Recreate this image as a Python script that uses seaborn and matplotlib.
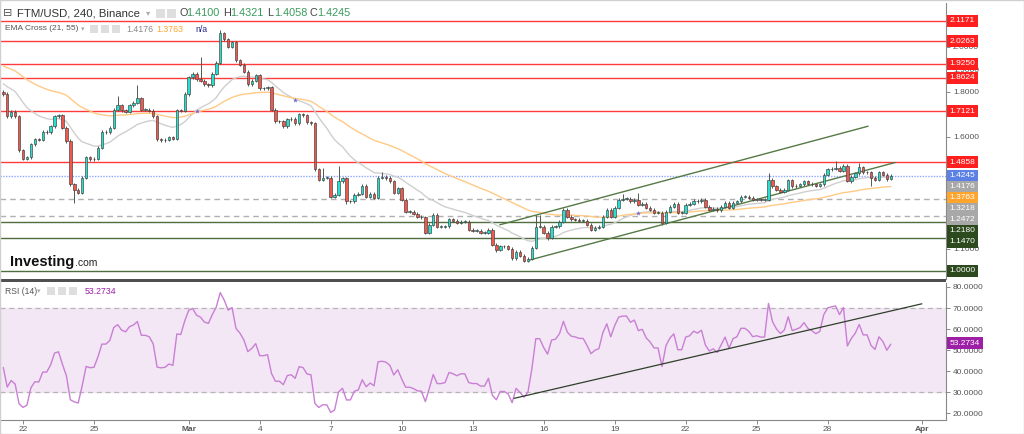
import matplotlib
matplotlib.use("Agg")
import matplotlib.pyplot as plt
import matplotlib.dates as mdates
from matplotlib.patches import Rectangle
from matplotlib.ticker import FormatStrFormatter
import seaborn as sns
import pandas as pd
import numpy as np

# FTM/USD 4h candles (Binance)
start_time = "2022-02-21 04:00"
first_open = 1.80
closes = [
    1.79, 1.69, 1.71, 1.69, 1.538, 1.50, 1.507, 1.565, 1.587, 1.585,
    1.62, 1.62, 1.645, 1.69, 1.695, 1.64, 1.58, 1.386, 1.363, 1.35,
    1.417, 1.507, 1.498, 1.50, 1.55, 1.62, 1.62, 1.64, 1.72, 1.74,
    1.717, 1.71, 1.74, 1.75, 1.77, 1.72, 1.72, 1.715, 1.69, 1.587,
    1.583, 1.585, 1.596, 1.59, 1.717, 1.715, 1.79, 1.865, 1.88, 1.857,
    1.85, 1.834, 1.83, 1.88, 1.93, 2.06, 2.035, 2.00, 2.02, 1.94,
    1.92, 1.89, 1.834, 1.85, 1.874, 1.816, 1.816, 1.82, 1.72, 1.668,
    1.668, 1.645, 1.677, 1.68, 1.66, 1.70, 1.695, 1.664, 1.66, 1.453,
    1.408, 1.417, 1.417, 1.332, 1.34, 1.40, 1.413, 1.31, 1.31, 1.34,
    1.345, 1.38, 1.332, 1.345, 1.327, 1.417, 1.42, 1.415, 1.40, 1.35,
    1.368, 1.318, 1.265, 1.265, 1.256, 1.242, 1.24, 1.17, 1.206, 1.25,
    1.197, 1.197, 1.20, 1.23, 1.224, 1.215, 1.22, 1.22, 1.184, 1.18,
    1.18, 1.17, 1.17, 1.184, 1.117, 1.094, 1.11, 1.11, 1.10, 1.058,
    1.085, 1.067, 1.045, 1.054, 1.103, 1.197, 1.197, 1.17, 1.148, 1.197,
    1.20, 1.22, 1.273, 1.242, 1.23, 1.228, 1.224, 1.224, 1.206, 1.184,
    1.193, 1.197, 1.242, 1.273, 1.242, 1.282, 1.318, 1.323, 1.323, 1.31,
    1.318, 1.296, 1.30, 1.282, 1.273, 1.26, 1.26, 1.215, 1.265, 1.287,
    1.30, 1.26, 1.26, 1.296, 1.30, 1.314, 1.31, 1.318, 1.287, 1.273,
    1.278, 1.27, 1.287, 1.305, 1.282, 1.305, 1.31, 1.332, 1.332, 1.327,
    1.318, 1.32, 1.318, 1.318, 1.408, 1.377, 1.363, 1.354, 1.363, 1.404,
    1.377, 1.381, 1.386, 1.40, 1.39, 1.386, 1.381, 1.386, 1.43, 1.453,
    1.457, 1.46, 1.448, 1.47, 1.40, 1.42, 1.435, 1.462, 1.44, 1.44,
    1.417, 1.408, 1.44, 1.43, 1.41, 1.4245,
]
# visible long wicks (candle index: price)
high_marks = {29: 1.78, 34: 1.83, 50: 1.955, 55: 2.075, 81: 1.46, 85: 1.47, 96: 1.44,
              135: 1.25, 136: 1.25, 157: 1.345, 161: 1.35, 194: 1.435, 211: 1.49,
              217: 1.484, 225: 1.4321}
low_marks = {18: 1.305, 87: 1.30, 125: 1.085, 132: 1.038, 138: 1.14, 167: 1.205,
             214: 1.395, 220: 1.377, 225: 1.4058}
wick = 0.007

# EMA values at the left edge of the chart
ema21_seed = 1.84
ema55_seed = 1.92
rsi_seed_gain = 0.012
rsi_seed_loss = 0.016

# horizontal levels
red_levels = [2.1171, 2.0263, 1.9250, 1.8624, 1.7121, 1.4858]
grey_dashed_levels = [1.3218, 1.2472]
green_levels = [1.2180, 1.1470, 1.0000]
last_price = 1.4245
ema21_label = 1.4176
ema55_label = 1.3763
rsi_label = 53.2734
price_ticks = [1.1, 1.6, 1.8, 1.9, 2.0, 2.1]
rsi_ticks = [20, 30, 40, 50, 60, 70, 80]

# drawn trend lines
chan_low_t = ["2022-03-15 10:00", "2022-03-30 20:30"]
chan_low_p = [1.049, 1.484]
chan_up_t = ["2022-03-14 03:30", "2022-03-29 17:00"]
chan_up_p = [1.206, 1.646]
rsi_trend_t = ["2022-03-14 18:00", "2022-03-31 23:30"]
rsi_trend_v = [27.0, 72.0]

tick_dates = ["2022-02-22", "2022-02-25", "2022-03-01", "2022-03-04", "2022-03-07",
              "2022-03-10", "2022-03-13", "2022-03-16", "2022-03-19", "2022-03-22",
              "2022-03-25", "2022-03-28", "2022-04-01"]
tick_labels = ["22", "25", "Mar", "4", "7", "10", "13", "16", "19", "22", "25", "28", "Apr"]

# ---------------------------------------------------------------
sns.set_theme(style="white")
plt.rcParams['font.family'] = ['Liberation Sans', 'DejaVu Sans']

times = pd.date_range(start_time, periods=len(closes), freq="4h")
x = mdates.date2num(times.to_pydatetime())
opens = [first_open] + closes[:-1]
highs = [high_marks.get(i, max(o, c) + wick) for i, (o, c) in enumerate(zip(opens, closes))]
lows = [low_marks.get(i, min(o, c) - wick) for i, (o, c) in enumerate(zip(opens, closes))]

close_s = pd.Series(closes)
ema21 = pd.concat([pd.Series([ema21_seed]), close_s]).ewm(span=21, adjust=False).mean().iloc[1:].values
ema55 = pd.concat([pd.Series([ema55_seed]), close_s]).ewm(span=55, adjust=False).mean().iloc[1:].values

delta = close_s.diff()
delta.iloc[0] = closes[0] - first_open
gain = delta.clip(lower=0)
loss = -delta.clip(upper=0)
avg_gain = pd.concat([pd.Series([rsi_seed_gain]), gain]).ewm(alpha=1 / 14, adjust=False).mean().iloc[1:].values
avg_loss = pd.concat([pd.Series([rsi_seed_loss]), loss]).ewm(alpha=1 / 14, adjust=False).mean().iloc[1:].values
rsi = 100 - 100 / (1 + avg_gain / avg_loss)

W, H = 1024, 434
fig = plt.figure(figsize=(W / 100, H / 100), dpi=100)
fig.patch.set_facecolor("white")


def fx(px):
    return px / W


def fy(py):
    return 1 - py / H


ax = fig.add_axes([0, fy(279), fx(946), 276 / H])
ax2 = fig.add_axes([0, fy(420), fx(946), 137 / H], sharex=ax)

xlim = mdates.date2num(pd.to_datetime(["2022-02-21 00:40", "2022-04-02 00:00"]).to_pydatetime())
ax.set_xlim(xlim)
ymin, ymax = 0.964, 2.196
ax.set_ylim(ymin, ymax)

# candles
up_col, dn_col = "#26e0cf", "#f0574d"
cols = [up_col if c >= o else dn_col for o, c in zip(opens, closes)]
bw = 4 / 24 * 0.62
ax.vlines(x, lows, highs, color="#4d5a4d", linewidth=0.7, zorder=3)
ax.bar(x, [max(abs(c - o), 0.002) for o, c in zip(opens, closes)],
       bottom=[min(o, c) for o, c in zip(opens, closes)], width=bw,
       color=cols, edgecolor="#3d3d3d", linewidth=0.45, zorder=4)

# EMA cross
sns.lineplot(x=x, y=ema21, ax=ax, color="#cfcfcf", linewidth=1, zorder=2)
sns.lineplot(x=x, y=ema55, ax=ax, color="#ffca85", linewidth=1, zorder=2)
sgn = np.sign(ema21 - ema55)
cross = np.where(np.diff(sgn) != 0)[0] + 1
ax.scatter(x[cross], ema21[cross], marker="*", s=14, color="#6a6ad0", zorder=5, linewidths=0)

# levels
for lv in red_levels:
    ax.axhline(lv, color="#ff3b3b", linewidth=1, zorder=1)
for lv in grey_dashed_levels:
    ax.axhline(lv, color="#b0b0b0", linewidth=1, linestyle=(0, (4, 3)), zorder=1)
for lv in green_levels:
    ax.axhline(lv, color="#4f6e3e", linewidth=1, zorder=1)
ax.axhline(last_price, color="#8fa8ff", linewidth=1, linestyle=(0, (1, 1)), zorder=1)

# channel
for tt, pp in [(chan_low_t, chan_low_p), (chan_up_t, chan_up_p)]:
    tx = mdates.date2num(pd.to_datetime(tt).to_pydatetime())
    ax.plot(tx, pp, color="#557a45", linewidth=1, zorder=3)

# right axis
for a in (ax, ax2):
    a.yaxis.tick_right()
    a.tick_params(axis="y", length=3, width=0.6, color="#777", labelsize=6, labelcolor="#555", pad=2, right=True)
    for s in ("left", "top", "bottom"):
        a.spines[s].set_visible(False)
    a.spines["right"].set_color("#888")
    a.spines["right"].set_linewidth(0.8)
    a.set_xlabel("")
    a.set_ylabel("")
ax.set_yticks(price_ticks)
ax.yaxis.set_major_formatter(FormatStrFormatter("%.4f"))
ax.tick_params(axis="x", bottom=False, labelbottom=False)

# price labels, stacked so they do not overlap
labels = [(lv, "#ff1f1f") for lv in red_levels] + [(last_price, "#5b80e6"), (ema21_label, "#a8a8a8"),
                                                    (ema55_label, "#ffa52e")]
labels += [(lv, "#a8a8a8") for lv in grey_dashed_levels] + [(lv, "#2c4a1d") for lv in green_levels]
labels.sort(key=lambda t: -t[0])
gap = 11 / 276
prev = 2.0
for lv, col in labels:
    fr = (lv - ymin) / (ymax - ymin)
    if fr > prev - gap:
        fr = prev - gap
    prev = fr
    ax.text(1.004, fr, f"{lv:.4f}", transform=ax.transAxes, ha="left", va="center", fontsize=6,
            color="white", clip_on=False, zorder=10,
            bbox=dict(boxstyle="square,pad=0.3", fc=col, ec="none"))

# RSI panel
ax2.axhspan(30, 70, color="#f3e7f5", zorder=0)
ax2.axhline(70, color="#b5b5b5", linewidth=0.9, linestyle=(0, (4, 3)))
ax2.axhline(30, color="#b5b5b5", linewidth=0.9, linestyle=(0, (4, 3)))
sns.lineplot(x=x, y=rsi, ax=ax2, color="#c97fd4", linewidth=1, zorder=3)
rtx = mdates.date2num(pd.to_datetime(rsi_trend_t).to_pydatetime())
ax2.plot(rtx, rsi_trend_v, color="#2f3f2a", linewidth=0.9, zorder=4)
ax2.set_ylim(16.7, 81.9)
ax2.set_yticks(rsi_ticks)
ax2.yaxis.set_major_formatter(FormatStrFormatter("%.4f"))
ax2.text(1.004, (rsi_label - 16.7) / (81.9 - 16.7), f"{rsi_label:.4f}", transform=ax2.transAxes,
         ha="left", va="center", fontsize=6, color="white", clip_on=False, zorder=10,
         bbox=dict(boxstyle="square,pad=0.3", fc="#9c1fa6", ec="none"))
ax2.spines["bottom"].set_visible(True)
ax2.spines["bottom"].set_color("#888")
ax2.spines["bottom"].set_linewidth(0.8)
ax2.set_xticks(mdates.date2num(pd.to_datetime(tick_dates).to_pydatetime()))
ax2.set_xticklabels(tick_labels)
ax2.tick_params(axis="x", bottom=True, length=3, width=0.6, color="#777", labelsize=6, labelcolor="#555", pad=1)
for t in ax2.get_xticklabels():
    if t.get_text() in ("Mar", "Apr"):
        t.set_fontweight("bold")
ax.set_xlim(xlim)

# separator between panels
fig.add_artist(Rectangle((0, fy(281.5)), fx(946), 3 / H, transform=fig.transFigure, color="#505050", lw=0))

# header texts
fig.text(fx(3), fy(13), "⊟", fontsize=8, color="#555", va="center", family=["DejaVu Sans"])
fig.text(fx(17), fy(13), "FTM/USD, 240, Binance", fontsize=8.2, color="#333", va="center")
fig.text(fx(146), fy(13), "▾", fontsize=6, color="#aaa", va="center", family=["DejaVu Sans"])
for xi in (156, 167):
    fig.add_artist(Rectangle((fx(xi), fy(18)), fx(9), 9 / H, transform=fig.transFigure, color="#dedede", lw=0))
ohlc = [("O", "1.4100", 179), ("H", "1.4321", 223), ("L", "1.4058", 267), ("C", "1.4245", 310)]
for letter, val, xp in ohlc:
    fig.text(fx(xp), fy(13), letter, fontsize=7.8, color="#444", va="center")
    fig.text(fx(xp + 7), fy(13), val, fontsize=7.8, color="#3a9a5c", va="center")

fig.text(fx(5), fy(29), "EMA Cross (21, 55)", fontsize=6.0, color="#555", va="center")
fig.text(fx(81), fy(29), "▾", fontsize=5, color="#aaa", va="center", family=["DejaVu Sans"])
for xi in (90, 101, 112):
    fig.add_artist(Rectangle((fx(xi), fy(33)), fx(8), 8 / H, transform=fig.transFigure, color="#dedede", lw=0))
fig.text(fx(126), fy(29), "1.4176", fontsize=6.3, color="#888", va="center")
fig.text(fx(156), fy(29), "1.3763", fontsize=6.3, color="#ffa52e", va="center")
fig.text(fx(195), fy(29), "n/a", fontsize=6.3, color="#2a2a8a", va="center")

fig.text(fx(5), fy(291), "RSI (14)", fontsize=6.2, color="#555", va="center")
fig.text(fx(37), fy(291), "▾", fontsize=5, color="#aaa", va="center", family=["DejaVu Sans"])
for xi in (47, 58, 69):
    fig.add_artist(Rectangle((fx(xi), fy(295)), fx(8), 8 / H, transform=fig.transFigure, color="#dedede", lw=0))
fig.text(fx(85), fy(291), "53.2734", fontsize=6.3, color="#9c1fa6", va="center")

# logo
fig.text(fx(10), fy(262), "Investing", fontsize=10.5, fontweight="bold", color="#111", va="center")
fig.text(fx(75), fy(263), ".com", fontsize=7.5, color="#222", va="center")

fig.add_artist(Rectangle((0, 0), 1, 1, transform=fig.transFigure, fill=False, ec="#d0d0d0", lw=1))

fig.savefig("out.png", dpi=100)
